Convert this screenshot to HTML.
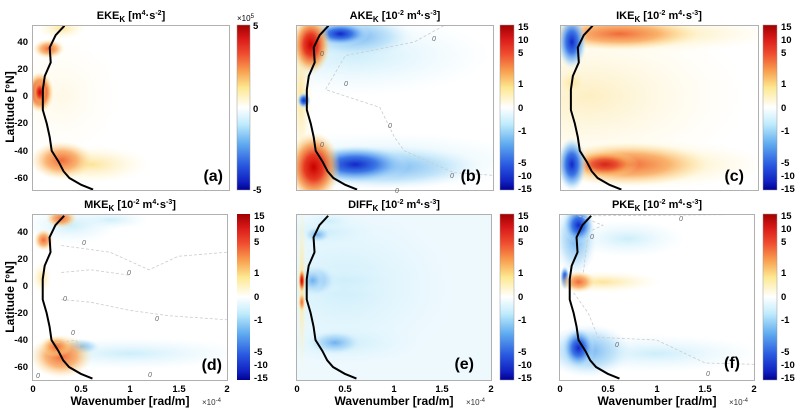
<!DOCTYPE html>
<html><head><meta charset="utf-8"><style>
body{margin:0;background:#fff}
svg{font-family:"Liberation Sans",sans-serif}
.t{font-size:11px;font-weight:bold;text-anchor:middle}
.k{font-size:9.5px;font-weight:bold}
.al{font-size:12px;font-weight:bold;text-anchor:middle}
.pl{font-size:16px;font-weight:bold;text-anchor:end}
.z{font-size:7px;fill:#666;font-style:italic}
</style></head><body>
<svg width="799" height="413" viewBox="0 0 799 413" xmlns="http://www.w3.org/2000/svg">
<defs>
<radialGradient id="R"><stop offset="0" stop-color="#c80000"/><stop offset=".35" stop-color="#e63a22"/><stop offset=".65" stop-color="#f7a050" stop-opacity=".85"/><stop offset="1" stop-color="#ffe8a0" stop-opacity="0"/></radialGradient>
<radialGradient id="O"><stop offset="0" stop-color="#f06a38"/><stop offset=".5" stop-color="#f9a860" stop-opacity=".85"/><stop offset="1" stop-color="#ffe8a0" stop-opacity="0"/></radialGradient>
<radialGradient id="Y"><stop offset="0" stop-color="#fde49a"/><stop offset="1" stop-color="#fff8d8" stop-opacity="0"/></radialGradient>
<radialGradient id="B"><stop offset="0" stop-color="#1028c8"/><stop offset=".4" stop-color="#3c78e6"/><stop offset=".7" stop-color="#8cc4f6" stop-opacity=".75"/><stop offset="1" stop-color="#d8f0ff" stop-opacity="0"/></radialGradient>
<radialGradient id="LB"><stop offset="0" stop-color="#6eb0f0"/><stop offset=".6" stop-color="#b4def8" stop-opacity=".75"/><stop offset="1" stop-color="#e0f4ff" stop-opacity="0"/></radialGradient>
<radialGradient id="C"><stop offset="0" stop-color="#cdeefa"/><stop offset="1" stop-color="#e8f8ff" stop-opacity="0"/></radialGradient>
<linearGradient id="CB" x1="0" y1="0" x2="0" y2="1">
<stop offset="0" stop-color="#a00000"/><stop offset=".08" stop-color="#d81818"/><stop offset=".18" stop-color="#f05030"/><stop offset=".28" stop-color="#f8a050"/><stop offset=".38" stop-color="#fde890"/><stop offset=".5" stop-color="#ffffff"/><stop offset=".6" stop-color="#c0ecfc"/><stop offset=".72" stop-color="#60acf0"/><stop offset=".85" stop-color="#2858e0"/><stop offset=".95" stop-color="#1020c0"/><stop offset="1" stop-color="#000090"/></linearGradient>
<path id="cv" d="M0.33,-52 L0.24,-45 0.18,-36 0.19,-25 0.13,-15 0.11,-5 0.11,10 0.15,20 0.18,30 0.2,40 0.27,48 0.32,55 0.38,60 0.5,65 0.62,68.5" fill="none" stroke="#000" stroke-width="2" vector-effect="non-scaling-stroke"/>
</defs>

<!-- Panel a -->
<svg x="32" y="25" width="197" height="165" viewBox="0 -52.5 2 121.3" preserveAspectRatio="none">
<rect x="0" y="-60" width="2" height="140" fill="#fff"/>
<ellipse cx="0.3" cy="0" rx="0.6" ry="45" fill="url(#Y)" opacity=".25"/>
<ellipse cx="0.3" cy="-50" rx="0.25" ry="8" fill="url(#Y)"/>
<ellipse cx="0.6" cy="50" rx="0.6" ry="14" fill="url(#Y)"/>
<ellipse cx="0.17" cy="-35" rx="0.16" ry="7" fill="url(#O)"/>
<ellipse cx="0.08" cy="-3" rx="0.14" ry="15" fill="url(#R)"/>
<ellipse cx="0.08" cy="-3" rx="0.07" ry="9" fill="url(#R)"/>
<ellipse cx="0.3" cy="47" rx="0.32" ry="14" fill="url(#O)"/>
<use href="#cv"/>
</svg>

<!-- Panel b -->
<svg x="296" y="25" width="197" height="165" viewBox="0 -52.5 2 121.3" preserveAspectRatio="none">
<rect x="0" y="-60" width="2" height="140" fill="#fff"/>
<ellipse cx="0.6" cy="-30" rx="1.4" ry="30" fill="url(#C)"/>
<ellipse cx="0.9" cy="48" rx="1.5" ry="22" fill="url(#C)"/>
<ellipse cx="0.05" cy="0" rx="0.12" ry="60" fill="url(#Y)"/>
<ellipse cx="0.6" cy="-44" rx="0.6" ry="16" fill="url(#LB)"/>
<ellipse cx="0.45" cy="-46" rx="0.3" ry="9" fill="url(#B)"/>
<ellipse cx="0.9" cy="52" rx="1.0" ry="16" fill="url(#LB)"/>
<ellipse cx="0.6" cy="50" rx="0.55" ry="14" fill="url(#B)"/>
<ellipse cx="0.08" cy="3" rx="0.07" ry="6" fill="url(#B)"/>
<ellipse cx="0.15" cy="-38" rx="0.2" ry="22" fill="url(#R)"/>
<ellipse cx="0.18" cy="52" rx="0.27" ry="26" fill="url(#R)"/>
<path d="M1.5,-52 1.2,-40 0.5,-30 0.3,-5 0.85,8 1.0,30 1.1,40 1.6,56 2,58" fill="none" stroke="#ccc" stroke-width="0.8" stroke-dasharray="3,2" vector-effect="non-scaling-stroke"/>
<use href="#cv"/>
</svg>

<!-- Panel c -->
<svg x="560" y="25" width="198" height="165" viewBox="0 -52.5 2 121.3" preserveAspectRatio="none">
<rect x="0" y="-60" width="2" height="140" fill="#fff"/>
<ellipse cx="0.3" cy="0" rx="1.6" ry="60" fill="url(#Y)" opacity=".6"/>
<ellipse cx="0.9" cy="-46" rx="1.3" ry="14" fill="url(#Y)"/>
<ellipse cx="0.6" cy="-46" rx="0.8" ry="12" fill="url(#O)"/>
<ellipse cx="0.12" cy="-10" rx="0.15" ry="10" fill="url(#Y)"/>
<ellipse cx="0.9" cy="50" rx="1.2" ry="18" fill="url(#Y)"/>
<ellipse cx="0.7" cy="50" rx="0.8" ry="16" fill="url(#O)"/>
<ellipse cx="0.45" cy="50" rx="0.35" ry="10" fill="url(#R)" opacity=".75"/>
<ellipse cx="0.12" cy="-40" rx="0.15" ry="20" fill="url(#B)"/>
<ellipse cx="0.12" cy="50" rx="0.15" ry="20" fill="url(#B)"/>
<use href="#cv"/>
</svg>

<!-- Panel d -->
<svg x="32" y="214" width="195" height="166" viewBox="0 -53.3 2 122.9" preserveAspectRatio="none">
<rect x="0" y="-60" width="2" height="140" fill="#fff"/>
<ellipse cx="0.8" cy="-49" rx="0.4" ry="7" fill="url(#C)"/>
<ellipse cx="1.0" cy="50" rx="1.2" ry="12" fill="url(#C)"/>
<ellipse cx="0.5" cy="45" rx="0.2" ry="6" fill="url(#LB)"/>
<ellipse cx="0.4" cy="-45" rx="0.5" ry="14" fill="url(#C)"/>
<ellipse cx="0.3" cy="-50" rx="0.16" ry="7" fill="url(#O)"/>
<ellipse cx="0.12" cy="-34" rx="0.1" ry="8" fill="url(#O)"/>
<ellipse cx="0.1" cy="-6" rx="0.1" ry="12" fill="url(#Y)"/>
<ellipse cx="0.3" cy="52" rx="0.32" ry="16" fill="url(#O)"/>
<ellipse cx="0.25" cy="45" rx="0.16" ry="8" fill="url(#O)"/>
<path d="M0.3,-30 0.8,-25 1.2,-12 1.5,-22 2,-25 M0.3,-10 0.6,-12 1.0,-8 M0.3,10 0.6,12 1.0,18 1.4,22 2,25 M0.25,42 0.45,40 0.5,46" fill="none" stroke="#ccc" stroke-width="0.8" stroke-dasharray="3,2" vector-effect="non-scaling-stroke"/>
<use href="#cv"/>
</svg>

<!-- Panel e -->
<svg x="296" y="214" width="195" height="166" viewBox="0 -53.3 2 122.9" preserveAspectRatio="none">
<rect x="0" y="-60" width="2" height="140" fill="#eef9fe"/>
<ellipse cx="0.5" cy="0" rx="1.2" ry="65" fill="url(#C)"/>
<ellipse cx="0.3" cy="-40" rx="0.6" ry="14" fill="url(#C)"/>
<ellipse cx="0.5" cy="42" rx="0.8" ry="16" fill="url(#C)"/>
<ellipse cx="0.5" cy="-4" rx="0.6" ry="10" fill="url(#C)"/>
<ellipse cx="0.2" cy="-4" rx="0.22" ry="12" fill="url(#LB)"/>
<ellipse cx="0.17" cy="-4" rx="0.12" ry="9" fill="url(#LB)"/>
<ellipse cx="0.22" cy="-38" rx="0.14" ry="6" fill="url(#LB)"/>
<ellipse cx="0.35" cy="-48" rx="0.25" ry="7" fill="url(#C)"/>
<ellipse cx="0.4" cy="42" rx="0.28" ry="9" fill="url(#LB)"/>
<ellipse cx="0.06" cy="0" rx="0.05" ry="70" fill="url(#Y)"/>
<ellipse cx="0.06" cy="-4" rx="0.035" ry="9" fill="url(#R)"/>
<ellipse cx="0.06" cy="12" rx="0.035" ry="7" fill="url(#O)"/>
<use href="#cv"/>
</svg>

<!-- Panel f -->
<svg x="559" y="214" width="195" height="166" viewBox="0 -53.3 2 122.9" preserveAspectRatio="none">
<rect x="0" y="-60" width="2" height="140" fill="#fff"/>
<ellipse cx="0.7" cy="-35" rx="0.6" ry="14" fill="url(#C)"/>
<ellipse cx="1.0" cy="50" rx="1.1" ry="14" fill="url(#C)"/>
<ellipse cx="0.17" cy="-35" rx="0.22" ry="28" fill="url(#LB)"/>
<ellipse cx="0.2" cy="-45" rx="0.16" ry="14" fill="url(#B)"/>
<ellipse cx="0.06" cy="-6" rx="0.05" ry="9" fill="url(#B)"/>
<ellipse cx="0.3" cy="48" rx="0.45" ry="20" fill="url(#LB)"/>
<ellipse cx="0.2" cy="46" rx="0.17" ry="15" fill="url(#B)"/>
<ellipse cx="0.45" cy="-3" rx="0.6" ry="8" fill="url(#Y)"/>
<ellipse cx="0.2" cy="-3" rx="0.17" ry="8" fill="url(#O)"/>
<path d="M0.2,-52 0.45,-45 0.3,-40 0.25,-10 M0.15,5 0.3,20 0.4,38 1.0,40 1.5,57 2,58 M0.35,-52 2,-53" fill="none" stroke="#ccc" stroke-width="0.8" stroke-dasharray="3,2" vector-effect="non-scaling-stroke"/>
<use href="#cv"/>
</svg>

<g fill="none" stroke="#b0b0b0" stroke-width="1">
<rect x="32.5" y="25.5" width="197" height="165"/>
<rect x="296.5" y="25.5" width="197" height="165"/>
<rect x="560.5" y="25.5" width="198" height="165"/>
<rect x="32.5" y="214.5" width="195" height="166"/>
<rect x="296.5" y="214.5" width="195" height="166"/>
<rect x="559.5" y="214.5" width="195" height="166"/>
</g>

<g stroke="#999" stroke-width=".5">
<rect x="237" y="25" width="13" height="165" fill="url(#CB)"/>
<rect x="500" y="25" width="14" height="165" fill="url(#CB)"/>
<rect x="763" y="25" width="14" height="165" fill="url(#CB)"/>
<rect x="500" y="214" width="14" height="166" fill="url(#CB)"/>
<rect x="763" y="214" width="14" height="166" fill="url(#CB)"/>
</g>
<rect x="237" y="214" width="13" height="166" fill="url(#CB)"/>

<g class="k">
<text x="253" y="29">5</text><text x="253" y="112">0</text><text x="253" y="193">-5</text>
<text x="237" y="21" style="font-size:8px;font-weight:normal">×10<tspan dy="-3" font-size="6">5</tspan></text>
<g id="cb1">
<text x="518" y="30">15</text><text x="518" y="43">10</text><text x="518" y="56">5</text><text x="518" y="87">1</text><text x="518" y="111">0</text><text x="518" y="134">-1</text><text x="518" y="166">-5</text><text x="518" y="179">-10</text><text x="518" y="192">-15</text>
</g>
<use href="#cb1" x="263"/>
<use href="#cb1" y="189"/>
<use href="#cb1" x="263" y="189"/>
<text x="254" y="219">15</text><text x="254" y="232">10</text><text x="254" y="245">5</text><text x="254" y="276">1</text><text x="254" y="300">0</text><text x="254" y="323">-1</text><text x="254" y="355">-5</text><text x="254" y="368">-10</text><text x="254" y="381">-15</text>
</g>

<g class="k" text-anchor="end">
<text x="28" y="45">40</text><text x="28" y="72">20</text><text x="28" y="99">0</text><text x="28" y="126">-20</text><text x="28" y="154">-40</text><text x="28" y="181">-60</text>
<text x="28" y="235">40</text><text x="28" y="262">20</text><text x="28" y="289">0</text><text x="28" y="316">-20</text><text x="28" y="343">-40</text><text x="28" y="370">-60</text>
</g>
<text class="al" transform="translate(14,107) rotate(-90)">Latitude [°N]</text>
<text class="al" transform="translate(14,297) rotate(-90)">Latitude [°N]</text>

<g class="k" text-anchor="middle">
<text x="33" y="392">0</text><text x="81" y="392">0.5</text><text x="130" y="392">1</text><text x="179" y="392">1.5</text><text x="227" y="392">2</text>
<text x="297" y="392">0</text><text x="345" y="392">0.5</text><text x="394" y="392">1</text><text x="442" y="392">1.5</text><text x="491" y="392">2</text>
<text x="560" y="392">0</text><text x="608" y="392">0.5</text><text x="657" y="392">1</text><text x="705" y="392">1.5</text><text x="754" y="392">2</text>
</g>
<g class="al"><text x="130" y="405">Wavenumber [rad/m]</text><text x="394" y="405">Wavenumber [rad/m]</text><text x="657" y="405">Wavenumber [rad/m]</text></g>
<g style="font-size:8px" fill="#333"><text x="202" y="405">×10<tspan dy="-3" font-size="6">-4</tspan></text><text x="466" y="405">×10<tspan dy="-3" font-size="6">-4</tspan></text><text x="729" y="405">×10<tspan dy="-3" font-size="6">-4</tspan></text></g>

<g class="t">
<text x="131" y="19">EKE<tspan font-size="8" dy="3">K</tspan><tspan dy="-3"> [m</tspan><tspan font-size="7" dy="-4">4</tspan><tspan dy="4">·s</tspan><tspan font-size="7" dy="-4">-2</tspan><tspan dy="4">]</tspan></text>
<text x="395" y="19">AKE<tspan font-size="8" dy="3">K</tspan><tspan dy="-3"> [10</tspan><tspan font-size="7" dy="-4">-2</tspan><tspan dy="4"> m</tspan><tspan font-size="7" dy="-4">4</tspan><tspan dy="4">·s</tspan><tspan font-size="7" dy="-4">-3</tspan><tspan dy="4">]</tspan></text>
<text x="659" y="19">IKE<tspan font-size="8" dy="3">K</tspan><tspan dy="-3"> [10</tspan><tspan font-size="7" dy="-4">-2</tspan><tspan dy="4"> m</tspan><tspan font-size="7" dy="-4">4</tspan><tspan dy="4">·s</tspan><tspan font-size="7" dy="-4">-3</tspan><tspan dy="4">]</tspan></text>
<text x="130" y="208">MKE<tspan font-size="8" dy="3">K</tspan><tspan dy="-3"> [10</tspan><tspan font-size="7" dy="-4">-2</tspan><tspan dy="4"> m</tspan><tspan font-size="7" dy="-4">4</tspan><tspan dy="4">·s</tspan><tspan font-size="7" dy="-4">-3</tspan><tspan dy="4">]</tspan></text>
<text x="394" y="208">DIFF<tspan font-size="8" dy="3">K</tspan><tspan dy="-3"> [10</tspan><tspan font-size="7" dy="-4">-2</tspan><tspan dy="4"> m</tspan><tspan font-size="7" dy="-4">4</tspan><tspan dy="4">·s</tspan><tspan font-size="7" dy="-4">-3</tspan><tspan dy="4">]</tspan></text>
<text x="657" y="208">PKE<tspan font-size="8" dy="3">K</tspan><tspan dy="-3"> [10</tspan><tspan font-size="7" dy="-4">-2</tspan><tspan dy="4"> m</tspan><tspan font-size="7" dy="-4">4</tspan><tspan dy="4">·s</tspan><tspan font-size="7" dy="-4">-3</tspan><tspan dy="4">]</tspan></text>
</g>

<g class="pl">
<text x="223" y="181">(a)</text><text x="481" y="181">(b)</text><text x="744" y="181">(c)</text>
<text x="222" y="370">(d)</text><text x="474" y="369">(e)</text><text x="740" y="368">(f)</text>
</g>

<g class="z">
<text x="432" y="41">0</text><text x="320" y="56">0</text><text x="344" y="86">0</text><text x="388" y="128">0</text><text x="320" y="147">0</text><text x="450" y="178">0</text><text x="395" y="193">0</text>
<text x="82" y="245">0</text><text x="127" y="275">0</text><text x="63" y="301">0</text><text x="155" y="321">0</text><text x="71" y="335">0</text><text x="148" y="377">0</text><text x="36" y="378">0</text>
<text x="679" y="221">0</text><text x="590" y="239">0</text><text x="615" y="347">0</text><text x="706" y="376">0</text>
</g>
</svg>
</body></html>
